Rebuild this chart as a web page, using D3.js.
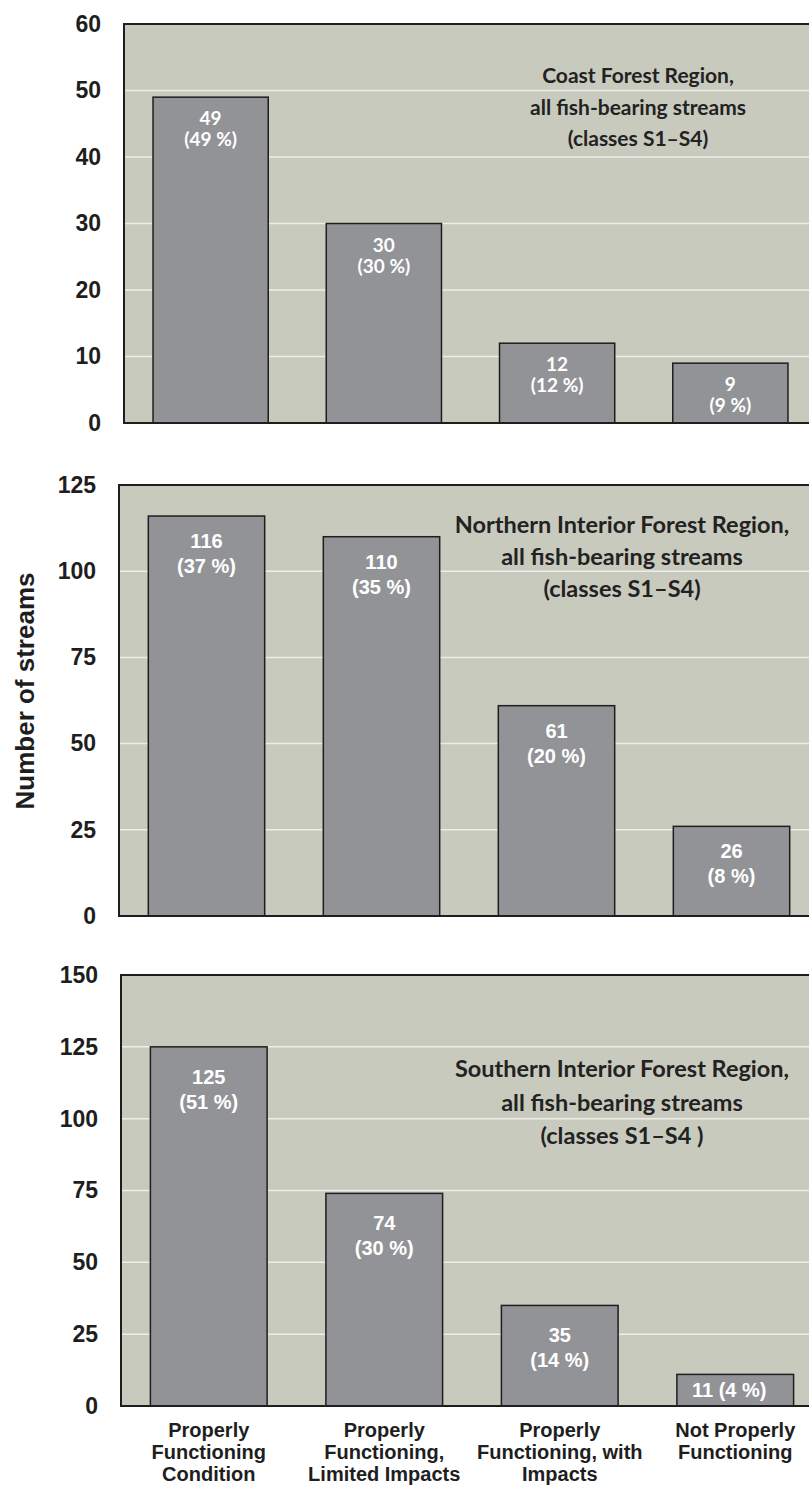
<!DOCTYPE html>
<html>
<head>
<meta charset="utf-8">
<script src="https://cdn.jsdelivr.net/npm/d3@7"></script>
<style>
  body { margin: 0; background: #ffffff; }
  svg { display: block; }
</style>
</head>
<body>
<svg id="chart"></svg>
<script>
// categories shown under the bottom panel
var categories = [
  ["Properly", "Functioning", "Condition"],
  ["Properly", "Functioning,", "Limited Impacts"],
  ["Properly", "Functioning, with", "Impacts"],
  ["Not Properly", "Functioning"]
];
var categoryKeys = ["PFC", "PFLI", "PFWI", "NPF"];

// values per region
var coastValues = [49, 30, 12, 9];
var coastPct = [49, 30, 12, 9];
var northValues = [116, 110, 61, 26];
var northPct = [37, 35, 20, 8];
var southValues = [125, 74, 35, 11];
var southPct = [51, 30, 14, 4];

// tick labels
var coastTicks = [0, 10, 20, 30, 40, 50, 60];
var northTicks = [0, 25, 50, 75, 100, 125];
var southTicks = [0, 25, 50, 75, 100, 125, 150];

var coastTitle = ["Coast Forest Region,", "all fish-bearing streams", "(classes S1\u2013S4)"];
var northTitle = ["Northern Interior Forest Region,", "all fish-bearing streams", "(classes  S1\u2013S4)"];
var southTitle = ["Southern Interior Forest Region,", "all fish-bearing streams", "(classes  S1\u2013S4 )"];

var chart_width = 809;
var chart_height = 1485;

var bg_color = "#c9cabe";
var bar_color = "#929397";
var grid_color = "#eeeee6";

// layout of each panel (pixels)
var panels = [
  { values: coastValues, pct: coastPct, ticks: coastTicks, title: coastTitle,
    left: 124, right: 817, top: 24, bottom: 423,
    titleX: 638, titleY: 83, titleGap: 31.5, titleSize: 21,
    labelFont: "Lato, 'Open Sans', sans-serif", labelSize: 19, dy1: 28, dy2: 49 },
  { values: northValues, pct: northPct, ticks: northTicks, title: northTitle,
    left: 119, right: 819, top: 485, bottom: 916,
    titleX: 622, titleY: 533, titleGap: 32, titleSize: 23.5,
    labelFont: "'Liberation Sans', Arial, sans-serif", labelSize: 20, dy1: 32, dy2: 57 },
  { values: southValues, pct: southPct, ticks: southTicks, title: southTitle,
    left: 121, right: 823, top: 975, bottom: 1406,
    titleX: 622, titleY: 1077, titleGap: 33.5, titleSize: 23.5,
    labelFont: "'Liberation Sans', Arial, sans-serif", labelSize: 20, dy1: 37, dy2: 62 }
];

var svg = d3.select("#chart")
  .attr("width", chart_width)
  .attr("height", chart_height)
  .style("font-family", "'Liberation Sans', Arial, sans-serif");

function drawPanel(p, idx) {
  var xScale = d3.scaleBand()
    .domain(categoryKeys)
    .range([p.left, p.right])
    .paddingInner(0.335)
    .paddingOuter(0.1675);

  var yScale = d3.scaleLinear()
    .domain([0, d3.max(p.ticks)])
    .range([p.bottom, p.top]);

  var g = svg.append("g");

  // plot background
  g.append("rect")
    .attr("x", p.left)
    .attr("y", p.top)
    .attr("width", p.right - p.left)
    .attr("height", p.bottom - p.top)
    .attr("fill", bg_color);

  // gridlines
  g.append("g")
    .selectAll("line")
    .data(p.ticks.filter(function(t) { return t > 0 && t < d3.max(p.ticks); }))
    .enter()
    .append("line")
    .attr("x1", p.left)
    .attr("x2", p.right)
    .attr("y1", function(d) { return yScale(d); })
    .attr("y2", function(d) { return yScale(d); })
    .attr("stroke", grid_color)
    .attr("stroke-width", 1.5);

  // bars
  g.append("g")
    .selectAll("rect")
    .data(p.values)
    .enter()
    .append("rect")
    .attr("x", function(d, i) { return xScale(categoryKeys[i]); })
    .attr("y", function(d) { return yScale(d); })
    .attr("width", xScale.bandwidth())
    .attr("height", function(d) { return p.bottom - yScale(d); })
    .attr("fill", bar_color)
    .attr("stroke", "#1e1e1e")
    .attr("stroke-width", 1.5);

  // border top / left / bottom
  g.append("path")
    .attr("d", "M" + p.right + "," + p.top + "H" + p.left + "V" + p.bottom + "H" + p.right)
    .attr("fill", "none")
    .attr("stroke", "#1e1e1e")
    .attr("stroke-width", 2);

  // y axis
  var yAxis = g.append("g")
    .attr("transform", "translate(" + p.left + ",0)")
    .call(d3.axisLeft(yScale).tickValues(p.ticks).tickSize(0).tickPadding(23));
  yAxis.select(".domain").remove();
  yAxis.selectAll("text")
    .attr("font-family", "'Liberation Sans', Arial, sans-serif")
    .attr("font-weight", "bold")
    .attr("font-size", 23)
    .attr("fill", "#1e1e1e");

  // value labels
  var labels = g.append("g")
    .selectAll("text")
    .data(p.values)
    .enter()
    .append("text")
    .attr("text-anchor", "middle")
    .attr("fill", "#ffffff")
    .attr("font-family", p.labelFont)
    .attr("font-weight", "bold")
    .attr("font-size", p.labelSize)
    .attr("x", function(d, i) { return xScale(categoryKeys[i]) + xScale.bandwidth() / 2; })
    .attr("y", function(d) { return yScale(d) + p.dy1; });

  labels.each(function(d, i) {
    var t = d3.select(this);
    var cx = xScale(categoryKeys[i]) + xScale.bandwidth() / 2;
    // small bar in the bottom panel gets a single line
    if (p.bottom - yScale(d) < 40) {
      t.attr("x", cx - 6).attr("y", p.bottom - 9).text(d + "  (" + p.pct[i] + " %)");
    } else {
      t.append("tspan").attr("x", cx).text(d);
      t.append("tspan").attr("x", cx).attr("y", yScale(d) + p.dy2).text("(" + p.pct[i] + " %)");
    }
  });

  // panel title
  g.append("text")
    .attr("text-anchor", "middle")
    .attr("font-family", "Lato, 'Open Sans', sans-serif")
    .attr("font-weight", "bold")
    .attr("font-size", p.titleSize)
    .attr("fill", "#222222")
    .selectAll("tspan")
    .data(p.title)
    .enter()
    .append("tspan")
    .attr("x", p.titleX)
    .attr("y", function(d, i) { return p.titleY + i * p.titleGap; })
    .text(function(d) { return d; });

  return xScale;
}

var lastX;
panels.forEach(function(p, i) { lastX = drawPanel(p, i); });

// category labels under the last panel
var bottomP = panels[2];
svg.append("g")
  .selectAll("text")
  .data(categories)
  .enter()
  .append("text")
  .attr("text-anchor", "middle")
  .attr("font-family", "'Liberation Sans', Arial, sans-serif")
  .attr("font-weight", "bold")
  .attr("font-size", 20)
  .attr("fill", "#1e1e1e")
  .each(function(lines, i) {
    var cx = lastX(categoryKeys[i]) + lastX.bandwidth() / 2;
    d3.select(this).selectAll("tspan")
      .data(lines)
      .enter()
      .append("tspan")
      .attr("x", cx)
      .attr("y", function(d, j) { return bottomP.bottom + 31 + j * 22; })
      .text(function(d) { return d; });
  });

// y axis title
svg.append("text")
  .attr("transform", "translate(34,691) rotate(-90)")
  .attr("text-anchor", "middle")
  .attr("font-family", "'Liberation Sans', Arial, sans-serif")
  .attr("font-weight", "bold")
  .attr("font-size", 26)
  .attr("fill", "#1e1e1e")
  .text("Number of streams");
</script>
</body>
</html>
